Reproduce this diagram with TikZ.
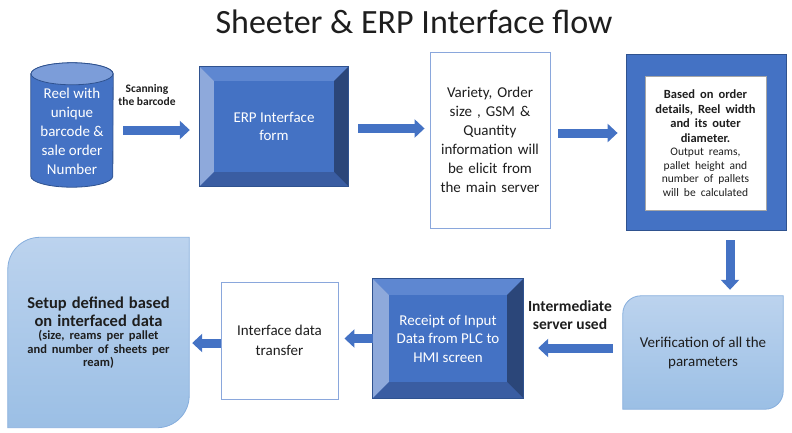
\documentclass[tikz,border=0pt]{standalone}
\usepackage{fontspec}
\setmainfont{Carlito}
\usepackage{xcolor}
\usetikzlibrary{arrows.meta, positioning, calc, backgrounds}
\definecolor{flowblue}{HTML}{4472C4}
\definecolor{edgeblue}{HTML}{2F528F}
\definecolor{bevtop}{HTML}{5E87D1}
\definecolor{bevleft}{HTML}{8EA9DB}
\definecolor{bevright}{HTML}{2B4679}
\definecolor{bevbottom}{HTML}{3A5DA2}
\definecolor{reeltopblue}{HTML}{7C9DD9}
\definecolor{softtop}{HTML}{BCD3EE}
\definecolor{softbottom}{HTML}{9BBFE5}
\definecolor{softedge}{HTML}{86AEDD}
\definecolor{thinblue}{HTML}{8AA7DC}
\definecolor{inkdark}{HTML}{1E1E1E}

% bevelled block drawn behind a named node: name, bevel depth
\newcommand{\bevelbox}[2]{%
  \fill[flowblue] (#1.south west) rectangle (#1.north east);
  \fill[bevtop] (#1.north west) -- (#1.north east) -- ([shift={(-#2,-#2)}]#1.north east) -- ([shift={(#2,-#2)}]#1.north west) -- cycle;
  \fill[bevleft] (#1.north west) -- ([shift={(#2,-#2)}]#1.north west) -- ([shift={(#2,#2)}]#1.south west) -- (#1.south west) -- cycle;
  \fill[bevright] (#1.north east) -- (#1.south east) -- ([shift={(-#2,#2)}]#1.south east) -- ([shift={(-#2,-#2)}]#1.north east) -- cycle;
  \fill[bevbottom] (#1.south west) -- (#1.south east) -- ([shift={(-#2,#2)}]#1.south east) -- ([shift={(#2,#2)}]#1.south west) -- cycle;
  \draw[edgeblue, line width=0.8pt] (#1.south west) rectangle (#1.north east);
}
% box with round top-left and bottom-right corners: name, radius
\newcommand{\softbox}[2]{%
  \draw[softedge, line width=0.8pt, top color=softtop, bottom color=softbottom]
    (#1.south west) -- ([yshift=-#2]#1.north west) arc[start angle=180, end angle=90, radius=#2]
    -- (#1.north east) -- ([yshift=#2]#1.south east) arc[start angle=0, end angle=-90, radius=#2] -- cycle;
}

\begin{document}
\begin{tikzpicture}[
    x=1pt, y=1pt,
    font=\fontsize{15}{18.5}\selectfont,
    txt/.style={text=inkdark, align=center, inner sep=0pt},
    wtxt/.style={text=white, align=center, inner sep=0pt},
    plainbox/.style={draw=thinblue, line width=0.9pt, fill=white, align=center, text=inkdark, inner sep=0pt},
    framebox/.style={draw=edgeblue, line width=0.8pt, fill=flowblue, inner sep=0pt},
    calcbox/.style={draw=gray!70, line width=0.5pt, fill=white, align=center, text=inkdark, inner sep=0pt},
    lbl/.style={text=inkdark, align=center, inner sep=0pt, font=\bfseries},
    blk/.style={line width=9pt, flowblue, -{Triangle[length=10pt, width=18pt]}},
]
\useasboundingbox (0,0) rectangle (792,-432);

% --- Title ---
\node[text=inkdark, font=\fontsize{34}{40}\selectfont] (title) at (414,-22) {Sheeter \& ERP Interface flow};

% --- Top row ---
\node[minimum width=82pt, minimum height=124pt, inner sep=0pt] (reel) at (72,-125) {};
\node[wtxt, font=\fontsize{15}{19}\selectfont] (reeltext) at ([yshift=-6pt]reel.center) {Reel with\\unique\\barcode \&\\sale order\\Number};

\node[wtxt, minimum width=148pt, minimum height=119pt] (erp) at (274,-126.5) {ERP Interface\\form};

\node[plainbox, minimum width=120pt, minimum height=176pt, text width=116pt,
      font=\fontsize{15}{19}\selectfont] (variety) at (490,-140)
  {Variety, Order\\size , GSM \&\\Quantity\\information will\\be elicit from\\the main server};

\node[framebox, minimum width=160pt, minimum height=176pt] (frame) at (706,-142) {};
\node[calcbox, minimum width=121pt, minimum height=134pt, text width=119pt] (calc) at (705.5,-143)
  {\fontsize{12.5}{14.5}\selectfont\bfseries Based on order\\details, Reel width\\and its outer\\diameter.\par
   \fontsize{11.5}{13.5}\selectfont\mdseries Output reams,\\pallet height and\\number of pallets\\will be calculated\par};

% --- Bottom row ---
\node[txt, minimum width=160pt, minimum height=113pt, font=\fontsize{15}{19}\selectfont] (verif) at (703,-352.5)
  {Verification of all the\\parameters};

\node[wtxt, minimum width=150pt, minimum height=119pt] (receipt) at (448,-338.5)
  {Receipt of Input\\Data from PLC to\\HMI screen};

\node[plainbox, minimum width=117pt, minimum height=117pt, font=\fontsize{15}{20}\selectfont] (iface) at (279.5,-340.5)
  {Interface data\\transfer};

\node[txt, minimum width=181pt, minimum height=190pt, text width=176pt] (setup) at (98.5,-332.5)
  {\fontsize{16.5}{18}\selectfont\bfseries Setup defined based\\on interfaced data\par
   \fontsize{12.5}{13.5}\selectfont (size, reams per pallet\\and number of sheets per\\ream)\par};

% --- Arrow labels ---
\node[lbl, font=\fontsize{11.5}{13}\selectfont\bfseries] (scanlbl) at (147,-95.5) {Scanning\\the barcode};
\node[lbl, font=\fontsize{15.5}{18}\selectfont\bfseries] (interlbl) at (570,-315) {Intermediate\\server used};

% --- Shapes behind the texts ---
\begin{scope}[on background layer]
  \fill[flowblue, draw=edgeblue, line width=0.8pt]
    ([yshift=-11pt]reel.north west) -- ([yshift=11pt]reel.south west)
    arc[start angle=180, end angle=360, x radius=41pt, y radius=11pt]
    -- ([yshift=-11pt]reel.north east)
    arc[start angle=0, end angle=180, x radius=41pt, y radius=11pt] -- cycle;
  \filldraw[fill=reeltopblue, draw=edgeblue, line width=0.8pt]
    ([yshift=-11pt]reel.north) ellipse[x radius=41pt, y radius=11pt];
  \bevelbox{erp}{14pt}
  \bevelbox{receipt}{16pt}
  \softbox{verif}{18pt}
  \softbox{setup}{32pt}
\end{scope}

% --- Flow arrows ---
\draw[blk, shorten <=10pt, shorten >=10pt] ([yshift=-3.5pt]erp.west -| reel.east) -- ([yshift=-3.5pt]erp.west);
\draw[blk, shorten <=10pt, shorten >=5pt] ([yshift=-2pt]erp.east) -- ([yshift=-2pt]erp.east -| variety.west);
\draw[blk, shorten <=8pt, shorten >=8pt] ([yshift=7pt]variety.east) -- ([yshift=7pt]variety.east -| frame.west);
\draw[blk, shorten <=10pt, shorten >=6pt] ([xshift=24pt]frame.south) -- ([xshift=24pt]frame.south |- verif.north);
\draw[blk, shorten <=10pt, shorten >=15pt] ([yshift=4.5pt]verif.west) -- ([yshift=4.5pt]verif.west -| receipt.east);
\draw[blk, shorten >=6pt] (receipt.west) -- (receipt.west -| iface.east);
\draw[blk, shorten >=3pt] ([yshift=-2.5pt]iface.west) -- ([yshift=-2.5pt]iface.west -| setup.east);

\end{tikzpicture}
\end{document}
